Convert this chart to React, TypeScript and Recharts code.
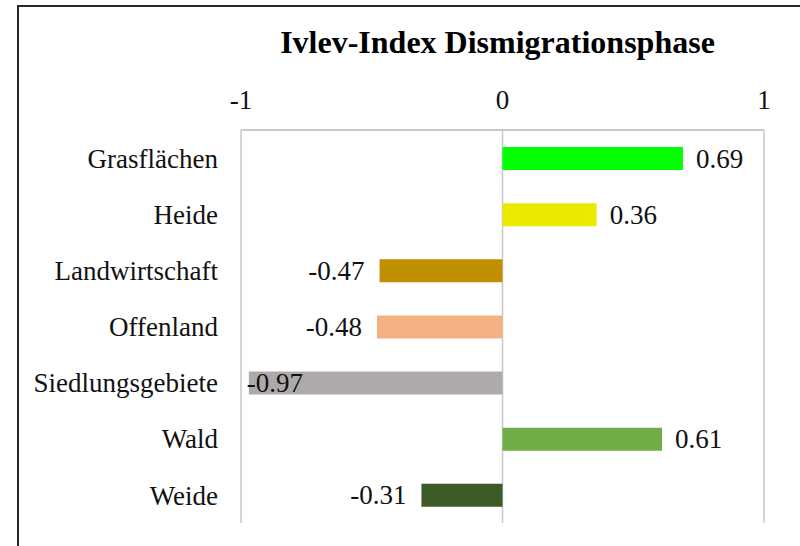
import { Bar, BarChart, CartesianGrid, Cell, LabelList, XAxis, YAxis } from "recharts";

const categories = ["Grasflächen", "Heide", "Landwirtschaft", "Offenland", "Siedlungsgebiete", "Wald", "Weide"];
const ivlev = [0.69, 0.36, -0.47, -0.48, -0.97, 0.61, -0.31];
const barColors = ["#00ff00", "#eaea00", "#bf8f00", "#f4b183", "#aeaaaa", "#70ad47", "#3b5a25"];
const xTicks = [-1, 0, 1];

const data = categories.map((name, i) => ({ name, value: ivlev[i] }));

const font = "'Liberation Serif', 'Times New Roman', serif";

// Excel-style "outside end" labels; pushed inside when there's no room left
function ValueLabel(props: any) {
  const { x, y, width, height, value } = props;
  const left = Math.min(x, x + width);
  const right = Math.max(x, x + width);
  const cy = y + height / 2;
  const txt = value.toFixed(2);
  let tx = value >= 0 ? right + 13 : left - 15;
  let anchor = value >= 0 ? "start" : "end";
  if (value < 0 && left - 15 - 60 < 241) {
    tx = left - 2;
    anchor = "start";
  }
  return (
    <text x={tx} y={cy} dy={9} textAnchor={anchor} fontSize={27} fontFamily={font} fill="#111">
      {txt}
    </text>
  );
}

export default function App() {
  return (
    <div style={{ position: "absolute", left: 0, top: 0, width: 800, height: 546, overflow: "hidden", background: "#fff" }}>
      <div
        style={{
          position: "absolute",
          left: 17,
          top: 5,
          width: 820,
          height: 580,
          border: "2px solid #262626",
        }}
      />
      <div
        style={{
          position: "absolute",
          left: 0,
          top: 24,
          width: 995,
          textAlign: "center",
          fontFamily: font,
          fontWeight: "bold",
          fontSize: 32,
          lineHeight: "36px",
          color: "#000",
        }}
      >
        Ivlev-Index Dismigrationsphase
      </div>
      <div style={{ position: "absolute", left: 0, top: 0 }}>
        <BarChart
          width={800}
          height={546}
          data={data}
          layout="vertical"
          margin={{ top: 90, right: 36, bottom: 23, left: 0 }}
          barSize={23}
        >
          <CartesianGrid horizontal={false} stroke="#c8c8c8" strokeWidth={1.5} />
          <XAxis
            type="number"
            orientation="top"
            domain={[-1, 1]}
            ticks={xTicks}
            height={40}
            axisLine={{ stroke: "#c8c8c8", strokeWidth: 2 }}
            tickLine={false}
            tickSize={0}
            tickMargin={21}
            tick={{ fontSize: 27, fontFamily: font, fill: "#111" }}
          />
          <YAxis
            type="category"
            dataKey="name"
            width={241}
            axisLine={false}
            tickLine={false}
            tickSize={0}
            tickMargin={23}
            tick={{ fontSize: 27, fontFamily: font, fill: "#111" }}
          />
          <Bar dataKey="value" isAnimationActive={false}>
            {data.map((_, i) => (
              <Cell key={i} fill={barColors[i]} />
            ))}
            <LabelList dataKey="value" content={<ValueLabel />} />
          </Bar>
        </BarChart>
      </div>
    </div>
  );
}
